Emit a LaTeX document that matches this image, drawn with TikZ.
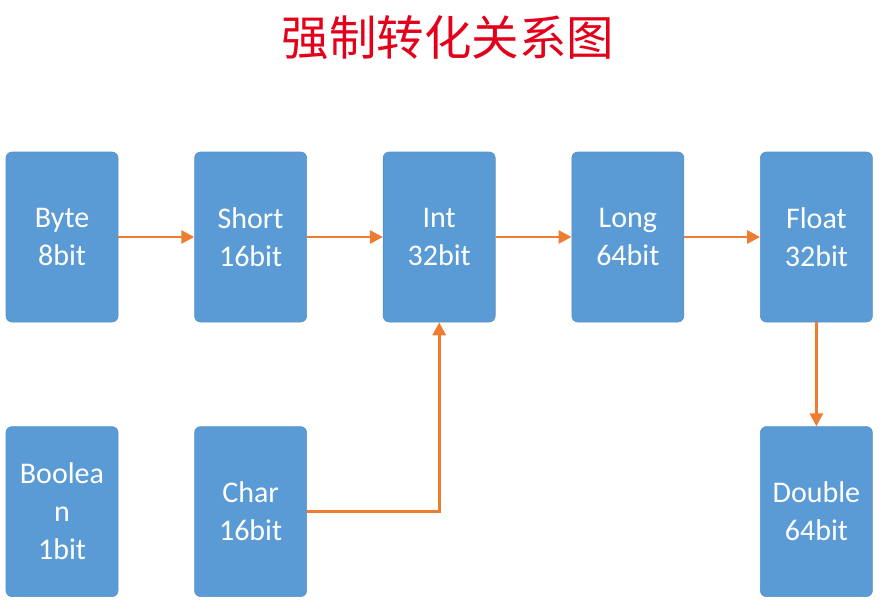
\documentclass[tikz,border=0pt]{standalone}
\usepackage{fontspec}
\setmainfont{Carlito}
\newfontfamily\cjkfont{Noto Sans CJK SC}
\usetikzlibrary{arrows.meta,positioning}
\definecolor{boxblue}{HTML}{5B9BD5}
\definecolor{boxedge}{HTML}{5490C8}
\definecolor{arrorange}{HTML}{ED7D31}
\definecolor{titlered}{HTML}{E3001B}

\begin{document}
\begin{tikzpicture}[
  node distance=76pt,
  type/.style={draw=boxedge, line width=0.6pt, rounded corners=6pt, fill=boxblue,
               font=\fontsize{30}{38}\selectfont, align=center,
               minimum width=112pt, minimum height=170pt, text=white, inner sep=0pt},
  conv/.style={-{Triangle[length=13pt,width=13pt]}, arrorange, line width=2.8pt},
]
\useasboundingbox (0,0) rectangle (880pt,-603pt);

%% Title
\node[font=\cjkfont\fontsize{47.5}{48}\selectfont, text=titlered] (title) at (448pt,-38pt) {强制转化关系图};

%% Top row
\node[type] (byte) at (62pt,-237pt) {Byte\\8bit};
\node[type, right=of byte]  (short) {Short\\16bit};
\node[type, right=of short] (int)   {Int\\32bit};
\node[type, right=of int]   (long)  {Long\\64bit};
\node[type, right=of long]  (float) {Float\\32bit};

%% Bottom row
\node[type, below=104pt of byte]  (boolean) {Boolea\\n\\1bit};
\node[type, below=104pt of short] (char)    {Char\\16bit};
\node[type, below=104pt of float] (double)  {Double\\64bit};

%% Conversions
\draw[conv] (byte)  -- (short);
\draw[conv] (short) -- (int);
\draw[conv] (int)   -- (long);
\draw[conv] (long)  -- (float);
\draw[conv] (float) -- (double);
\draw[conv] (char.east) -| (int.south);

\end{tikzpicture}
\end{document}
